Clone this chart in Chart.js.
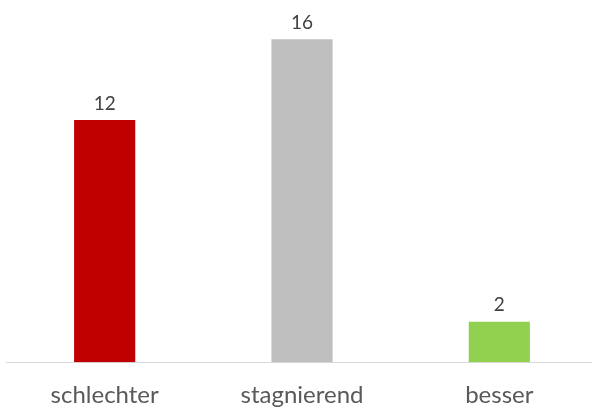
<!DOCTYPE html>
<html><head><meta charset="utf-8">
<script src="https://cdn.jsdelivr.net/npm/chart.js@4.4.1/dist/chart.umd.min.js"></script>
<style>
html,body{margin:0;padding:0;background:#fff;overflow:hidden;}
#wrap{position:absolute;left:0;top:0;width:598px;height:408px;}
</style></head><body>
<div id="wrap"><canvas id="c" width="598" height="408"></canvas></div>
<script>
const categories = ["schlechter", "stagnierend", "besser"];
const values = [12, 16, 2];
const barColors = ["#C00000", "#BFBFBF", "#92D050"];

const valueLabels = {
  id: 'valueLabels',
  afterDatasetsDraw(chart) {
    const ctx = chart.ctx;
    const meta = chart.getDatasetMeta(0);
    ctx.save();
    ctx.font = '19px Lato';
    ctx.fillStyle = '#404040';
    ctx.textAlign = 'center';
    ctx.textBaseline = 'bottom';
    meta.data.forEach((el, i) => {
      ctx.fillText(String(values[i]), el.x, el.y - 7);
    });
    ctx.restore();
  }
};

new Chart(document.getElementById('c'), {
  type: 'bar',
  data: {
    labels: categories,
    datasets: [{
      data: values,
      backgroundColor: barColors,
      borderWidth: 0,
      categoryPercentage: 1,
      barPercentage: 0.31
    }]
  },
  options: {
    responsive: false,
    animation: false,
    devicePixelRatio: 1,
    layout: { padding: { left: 6, right: 0, top: 0, bottom: -21 } },
    plugins: { legend: { display: false }, tooltip: { enabled: false } },
    scales: {
      x: {
        grid: { display: false, drawTicks: false },
        border: { display: true, color: '#D9D9D9', width: 1 },
        ticks: { color: '#595959', font: { family: 'Lato', size: 24 }, padding: 19 }
      },
      y: {
        display: false,
        min: 0, max: 17.95
      }
    }
  },
  plugins: [valueLabels]
});
</script>
</body></html>
